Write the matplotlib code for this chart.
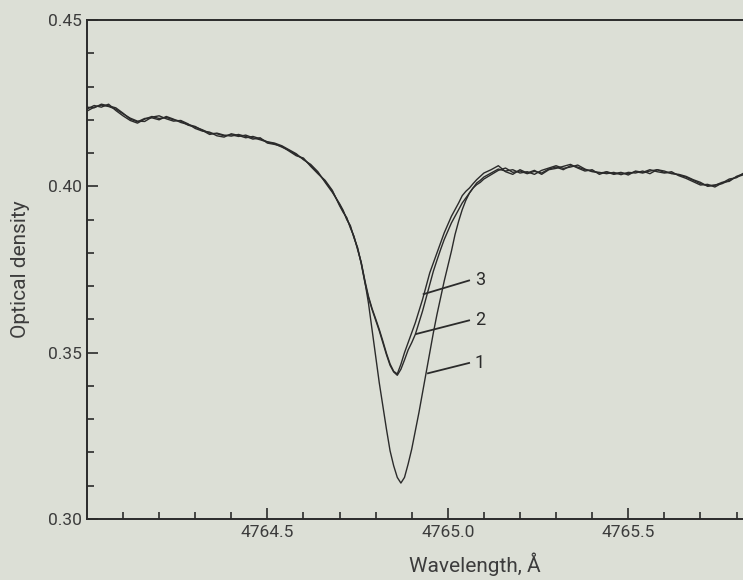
import numpy as np
import matplotlib.pyplot as plt

# wavelength grid (A): coarse in the wings, finer through the line core
lam_left = np.round(np.arange(4764.00, 4764.701, 0.02), 2)
lam_core = np.round(np.arange(4764.71, 4765.101, 0.01), 2)
lam_right = np.round(np.arange(4765.12, 4765.821, 0.02), 2)

# optical density
left_1 = [0.4232, 0.4243, 0.4238, 0.4247, 0.4228, 0.4212, 0.4198, 0.4190, 0.4202, 0.4210,
          0.4204, 0.4207, 0.4200, 0.4196, 0.4184, 0.4178, 0.4170, 0.4160, 0.4158, 0.4152,
          0.4155, 0.4150, 0.4154, 0.4146, 0.4140, 0.4133, 0.4128, 0.4118, 0.4108, 0.4095,
          0.4082, 0.4063, 0.4040, 0.4015, 0.3985, 0.3945]
left_2 = [0.4226, 0.4238, 0.4244, 0.4240, 0.4232, 0.4218, 0.4205, 0.4196, 0.4195, 0.4208,
          0.4212, 0.4203, 0.4196, 0.4198, 0.4188, 0.4174, 0.4166, 0.4163, 0.4152, 0.4148,
          0.4158, 0.4153, 0.4146, 0.4150, 0.4143, 0.4134, 0.4130, 0.4122, 0.4110, 0.4098,
          0.4080, 0.4066, 0.4044, 0.4012, 0.3982, 0.3948]
left_3 = [0.4238, 0.4236, 0.4247, 0.4242, 0.4236, 0.4220, 0.4202, 0.4194, 0.4204, 0.4206,
          0.4200, 0.4210, 0.4202, 0.4192, 0.4186, 0.4180, 0.4168, 0.4156, 0.4160, 0.4154,
          0.4151, 0.4156, 0.4150, 0.4142, 0.4146, 0.4130, 0.4126, 0.4120, 0.4106, 0.4092,
          0.4085, 0.4060, 0.4038, 0.4018, 0.3988, 0.3942]

core_1 = [0.3925, 0.3903, 0.3878, 0.3848, 0.3813, 0.3770, 0.3715, 0.3650, 0.3570, 0.3490,
          0.3410, 0.3340, 0.3270, 0.3205, 0.3160, 0.3125, 0.3108, 0.3125, 0.3165, 0.3210,
          0.3265, 0.3320, 0.3380, 0.3440, 0.3500, 0.3560, 0.3615, 0.3665, 0.3715, 0.3760,
          0.3805, 0.3855, 0.3895, 0.3930, 0.3958, 0.3980, 0.3995, 0.4005, 0.4012, 0.4022]
core_2 = [0.3928, 0.3900, 0.3882, 0.3845, 0.3816, 0.3768, 0.3712, 0.3666, 0.3630, 0.3598,
          0.3566, 0.3530, 0.3494, 0.3462, 0.3442, 0.3432, 0.3450, 0.3478, 0.3508, 0.3530,
          0.3555, 0.3590, 0.3625, 0.3665, 0.3705, 0.3745, 0.3778, 0.3810, 0.3840, 0.3865,
          0.3890, 0.3910, 0.3930, 0.3950, 0.3965, 0.3980, 0.3995, 0.4010, 0.4018, 0.4028]
core_3 = [0.3922, 0.3906, 0.3875, 0.3850, 0.3810, 0.3772, 0.3718, 0.3670, 0.3633, 0.3602,
          0.3570, 0.3535, 0.3498, 0.3466, 0.3444, 0.3436, 0.3465, 0.3500, 0.3530, 0.3560,
          0.3590, 0.3625, 0.3660, 0.3700, 0.3740, 0.3770, 0.3800, 0.3830, 0.3860, 0.3885,
          0.3910, 0.3930, 0.3950, 0.3972, 0.3985, 0.3995, 0.4008, 0.4020, 0.4030, 0.4040]

right_1 = [0.4035, 0.4048, 0.4055, 0.4042, 0.4046, 0.4038, 0.4045, 0.4040, 0.4052, 0.4058,
           0.4050, 0.4062, 0.4058, 0.4050, 0.4046, 0.4040, 0.4043, 0.4036, 0.4040, 0.4038,
           0.4044, 0.4040, 0.4046, 0.4050, 0.4042, 0.4040, 0.4034, 0.4028, 0.4018, 0.4008,
           0.4002, 0.4004, 0.4008, 0.4018, 0.4028, 0.4035]
right_2 = [0.4040, 0.4052, 0.4046, 0.4050, 0.4040, 0.4044, 0.4036, 0.4048, 0.4055, 0.4062,
           0.4054, 0.4058, 0.4064, 0.4052, 0.4044, 0.4042, 0.4038, 0.4042, 0.4035, 0.4042,
           0.4040, 0.4046, 0.4038, 0.4050, 0.4046, 0.4038, 0.4036, 0.4030, 0.4020, 0.4012,
           0.4000, 0.4003, 0.4012, 0.4015, 0.4030, 0.4038]
right_3 = [0.4050, 0.4062, 0.4044, 0.4036, 0.4050, 0.4040, 0.4048, 0.4036, 0.4050, 0.4054,
           0.4060, 0.4066, 0.4055, 0.4046, 0.4050, 0.4036, 0.4044, 0.4038, 0.4042, 0.4034,
           0.4046, 0.4042, 0.4050, 0.4044, 0.4040, 0.4044, 0.4032, 0.4024, 0.4014, 0.4004,
           0.4006, 0.3998, 0.4010, 0.4022, 0.4026, 0.4040]

labels = ['1', '2', '3']
# (point on curve, text position) for the numbered leaders
leader_from = [(4764.945, 0.3438), (4764.912, 0.3556), (4764.933, 0.3676)]
leader_to = [(4765.059, 0.3469), (4765.059, 0.3597), (4765.059, 0.3717)]

ink = '#2b2b2b'
paper = '#dcdfd6'
plt.rcParams['font.family'] = ['Roboto', 'DejaVu Sans']

fig = plt.figure(figsize=(7.43, 5.8), dpi=100, facecolor=paper)
ax = fig.add_axes([0.117, 0.1052, 0.883, 0.8603], facecolor=paper)

lam = np.concatenate([lam_left, lam_core, lam_right])
curves = [left_1 + core_1 + right_1, left_2 + core_2 + right_2, left_3 + core_3 + right_3]
for vals in curves:
    ax.plot(lam, vals, color=ink, lw=1.0, solid_joinstyle='round')

for lab, p0, p1 in zip(labels, leader_from, leader_to):
    ax.plot([p0[0], p1[0]], [p0[1], p1[1]], color=ink, lw=1.3)
    ax.text(p1[0] + 0.016, p1[1], lab, color=ink, fontsize=13, va='center', ha='left')

ax.set_xlim(4764.0, 4765.818)
ax.set_ylim(0.30, 0.45)
ax.set_xticks([4764.5, 4765.0, 4765.5])
ax.set_xticklabels(['4764.5', '4765.0', '4765.5'])
ax.set_xticks(np.round(np.arange(4764.1, 4765.81, 0.1), 1), minor=True)
ax.set_yticks([0.30, 0.35, 0.40, 0.45])
ax.set_yticklabels(['0.30', '0.35', '0.40', '0.45'])
ax.set_yticks(np.round(np.arange(0.31, 0.45, 0.01), 2), minor=True)

ax.tick_params(which='both', direction='in', color=ink, width=1.2, labelcolor='#3c3c3c',
               labelsize=12.5, top=False, right=False)
ax.tick_params(which='major', length=8, pad=4)
ax.tick_params(which='minor', length=5)

for side in ['left', 'bottom', 'top']:
    ax.spines[side].set_color(ink)
    ax.spines[side].set_linewidth(1.4)
ax.spines['right'].set_visible(False)

ax.set_xlabel('Wavelength, Å', fontsize=15, color='#3c3c3c')
ax.xaxis.set_label_coords(0.591, -0.068)
ax.set_ylabel('Optical density', fontsize=15, color='#3c3c3c')
ax.yaxis.set_label_coords(-0.087, 0.5)

fig.savefig('out.png', dpi=100, facecolor=paper)
